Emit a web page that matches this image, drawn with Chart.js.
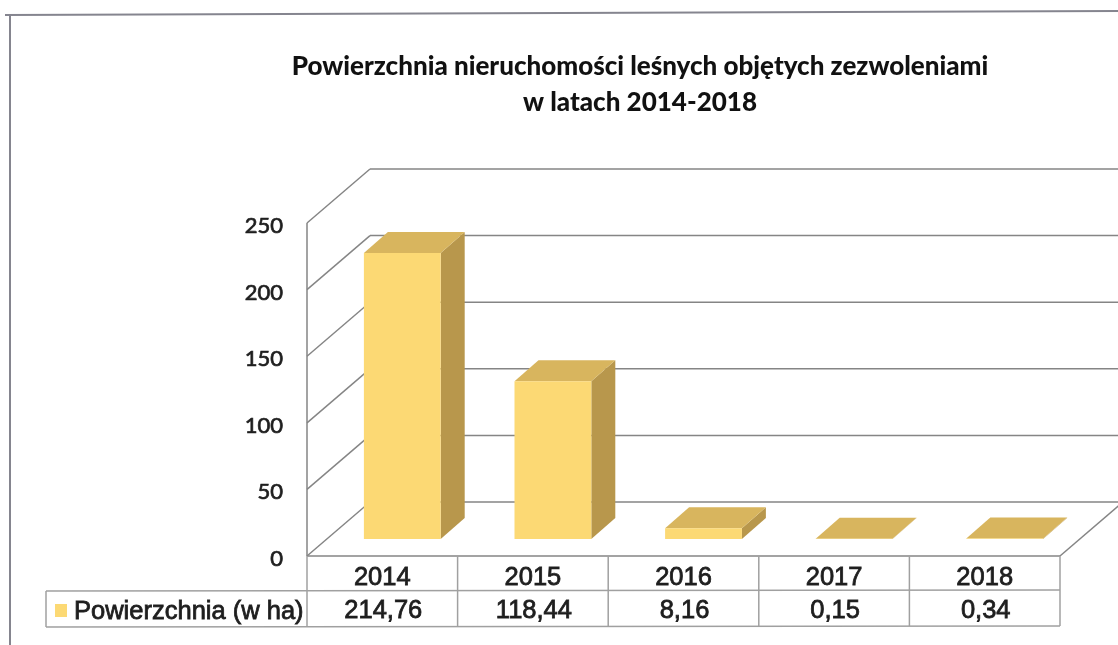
<!DOCTYPE html>
<html>
<head>
<meta charset="utf-8">
<title>Powierzchnia nieruchomości leśnych</title>
<style>
  html, body { margin: 0; padding: 0; background: #fff; overflow: hidden; }
  #wrap { position: relative; width: 1118px; height: 645px; }
</style>
<script src="https://cdn.jsdelivr.net/npm/chart.js@4.4.0/dist/chart.umd.min.js"></script>
</head>
<body>
<div id="wrap"><canvas id="chart-pow" width="1118" height="645"></canvas></div>
<script>
var titleLines = ['Powierzchnia nieruchomości leśnych objętych zezwoleniami', 'w latach 2014-2018'];
var years      = ['2014', '2015', '2016', '2017', '2018'];
var areaHa     = [214.76, 118.44, 8.16, 0.15, 0.34];
var seriesName = 'Powierzchnia (w ha)';
var yTicks     = [0, 50, 100, 150, 200, 250];

var lineGrey  = '#858585';
var tableGrey = '#a0a0a0';
var barFront  = '#fcd974';
var barSide   = '#b8974c';
var barTop    = '#d8b55e';
var textDark  = '#1e1e1e';
var tableFont = '25.5px "Liberation Sans", sans-serif';

// depth of the 3D box, in pixels
var wallDx = 63, wallDy = -54;   // back wall
var barDx  = 20, barDy  = -17;   // where bars stand on the floor
var boxDx  = 24, boxDy  = -21;   // bar depth
var titleCenter = 640;

function line(ctx, x1, y1, x2, y2) {
  ctx.beginPath();
  ctx.moveTo(x1, y1);
  ctx.lineTo(x2, y2);
  ctx.stroke();
}

function poly(ctx, pts, color) {
  ctx.fillStyle = color;
  ctx.beginPath();
  ctx.moveTo(pts[0][0], pts[0][1]);
  for (var i = 1; i < pts.length; i++) ctx.lineTo(pts[i][0], pts[i][1]);
  ctx.closePath();
  ctx.fill();
}

function fmtPl(v) {
  return String(v).replace('.', ',');
}

// ── back wall, side wall, floor ─────────────────────────
var wallsPlugin = {
  id: 'walls',
  afterLayout: function(chart) {
    // title is centred on the plot, not on the page
    chart.titleBlock.right = titleCenter * 2;
    // tick digits sit a little under the gridline ends
    var yScale = chart.scales.y, drawLabels = yScale.drawLabels;
    yScale.drawLabels = function(area) {
      chart.ctx.save();
      chart.ctx.translate(0, 3);
      drawLabels.call(yScale, area);
      chart.ctx.restore();
    };
  },
  beforeDatasetsDraw: function(chart) {
    var ctx = chart.ctx, y = chart.scales.y, a = chart.chartArea;
    ctx.save();
    ctx.strokeStyle = lineGrey;
    ctx.lineWidth = 1.5;
    yTicks.forEach(function(v) {
      var py = y.getPixelForValue(v);
      line(ctx, a.left, py, a.left + wallDx, py + wallDy);
      line(ctx, a.left + wallDx, py + wallDy, a.right + wallDx, py + wallDy);
    });
    line(ctx, a.left, a.top, a.left, a.bottom);
    line(ctx, a.right, a.bottom, a.right + wallDx, a.bottom + wallDy);
    line(ctx, a.left, a.bottom, a.right, a.bottom);
    ctx.restore();
  }
};

// ── 3D bars: side and top faces, then the real bars shifted back ──
var boxPlugin = {
  id: 'box',
  beforeDatasetDraw: function(chart) {
    var ctx = chart.ctx;
    chart.getDatasetMeta(0).data.forEach(function(bar) {
      var l = bar.x - bar.width / 2 + barDx, r = bar.x + bar.width / 2 + barDx;
      var t = bar.y + barDy, b = bar.base + barDy;
      poly(ctx, [[r, t], [r + boxDx, t + boxDy], [r + boxDx, b + boxDy], [r, b]], barSide);
      poly(ctx, [[l, t], [r, t], [r + boxDx, t + boxDy], [l + boxDx, t + boxDy]], barTop);
    });
    ctx.save();
    ctx.translate(barDx, barDy);
  },
  afterDatasetDraw: function(chart) {
    chart.ctx.restore();
  }
};

// ── data table under the plot ───────────────────────────
var tablePlugin = {
  id: 'dataTable',
  afterDraw: function(chart) {
    var ctx = chart.ctx, x = chart.scales.x, a = chart.chartArea;
    var cell = (a.right - a.left) / years.length;
    var rowTop = 591, rowBottom = 627, legendLeft = 46;
    ctx.save();
    ctx.strokeStyle = tableGrey;
    ctx.lineWidth = 1.5;
    line(ctx, legendLeft, rowTop, a.right, rowTop - 1);
    line(ctx, legendLeft, rowBottom, a.right, rowBottom - 1);
    line(ctx, legendLeft, rowTop, legendLeft, rowBottom);
    for (var i = 0; i <= years.length; i++) {
      line(ctx, a.left + i * cell, a.bottom, a.left + i * cell, rowBottom - 1);
    }
    ctx.fillStyle = barFront;
    ctx.fillRect(55, 604, 12, 13);
    ctx.font = tableFont;
    ctx.fillStyle = textDark;
    ctx.strokeStyle = textDark;
    ctx.lineWidth = 0.8;
    ctx.textBaseline = 'middle';
    ctx.textAlign = 'left';
    ctx.fillText(seriesName, 74, 612);
    ctx.strokeText(seriesName, 74, 612);
    ctx.textAlign = 'center';
    areaHa.forEach(function(v, i) {
      var px = x.getPixelForValue(i);
      ctx.fillText(fmtPl(v), px + 1, 611);
      ctx.strokeText(fmtPl(v), px + 1, 611);
    });
    // scan frame
    ctx.strokeStyle = '#85858f';
    ctx.lineWidth = 2;
    line(ctx, 5, 15, 1118, 11);
    line(ctx, 10, 15, 10, 645);
    ctx.restore();
  }
};

new Chart(document.getElementById('chart-pow'), {
  type: 'bar',
  data: {
    labels: years,
    datasets: [{
      label: seriesName,
      data: areaHa,
      backgroundColor: barFront,
      borderWidth: 0,
      categoryPercentage: 1,
      barPercentage: 0.51,
      clip: false
    }]
  },
  plugins: [wallsPlugin, boxPlugin, tablePlugin],
  options: {
    responsive: false,
    animation: false,
    layout: { padding: { left: 0, right: 58, top: 0, bottom: 0 } },
    plugins: {
      legend: { display: false },
      tooltip: { enabled: false },
      title: {
        display: true,
        text: titleLines,
        color: '#111111',
        font: { family: 'Lato', size: 26, weight: 900, lineHeight: 1.385 },
        padding: { top: 49, bottom: 102 }
      }
    },
    scales: {
      x: {
        grid: { display: false, drawTicks: false },
        border: { display: false },
        ticks: {
          color: textDark,
          padding: 7,
          maxRotation: 0,
          font: { family: '"Liberation Sans"', size: 25.5 },
          textStrokeColor: textDark,
          textStrokeWidth: 0.8
        },
        afterFit: function(scale) { scale.height = 89; }
      },
      y: {
        min: 0,
        max: 250,
        grid: { display: false, drawTicks: false },
        border: { display: false },
        ticks: {
          stepSize: 50,
          color: textDark,
          padding: 24,
          font: { family: 'Lato', size: 22 },
          textStrokeColor: textDark,
          textStrokeWidth: 0.7
        },
        afterFit: function(scale) { scale.width = 307; }
      }
    }
  }
});
</script>
</body>
</html>
